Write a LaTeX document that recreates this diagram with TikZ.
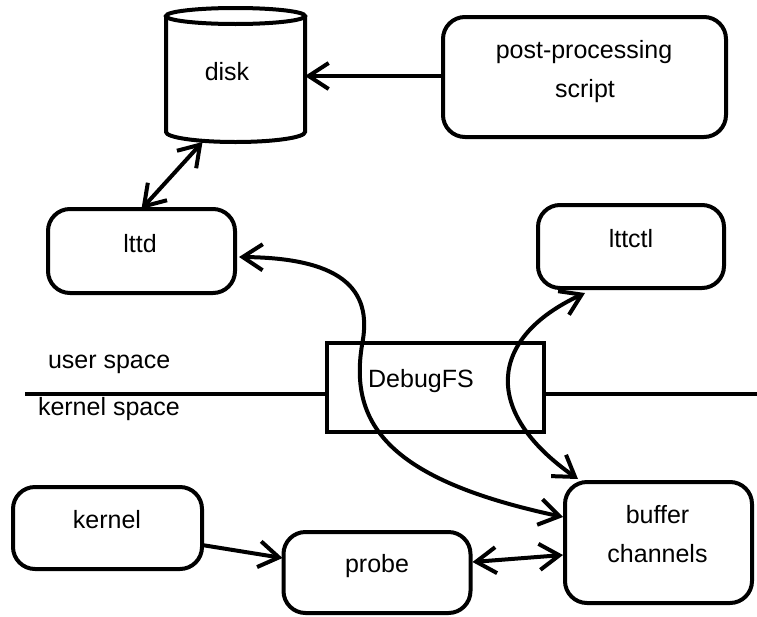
\documentclass[tikz,border=0pt]{standalone}
\usepackage{fontspec}
\setmainfont{Liberation Sans}
\usetikzlibrary{arrows.meta}

\begin{document}
\begin{tikzpicture}[x=1pt,y=-1pt,
  every node/.style={inner sep=0pt, outer sep=0pt},
  box/.style={draw, line width=4pt, rounded corners=22pt},
  plainbox/.style={draw, line width=4pt},
  lbl/.style={font=\fontsize{25pt}{30pt}\selectfont, anchor=base},
  conn/.style={line width=4pt},
  >={Straight Barb[length=20pt,width=26pt]}]

\useasboundingbox (0,0) rectangle (757,616);

% boxes
\node[box, minimum width=283pt, minimum height=120pt] (post) at (584.5,77) {};
\node[box, minimum width=187pt, minimum height=84pt] (lttd) at (141.5,251) {};
\node[box, minimum width=186pt, minimum height=83pt] (lttctl) at (631,246.5) {};
\node[plainbox, minimum width=217pt, minimum height=89pt] (debug) at (435.5,387.5) {};
\node[box, minimum width=189pt, minimum height=82pt] (kernel) at (107.5,528) {};
\node[box, minimum width=187pt, minimum height=81pt] (probe) at (377,572.5) {};
\node[box, minimum width=187pt, minimum height=121pt] (buffer) at (658.5,542.5) {};

% disk drawn as a cylinder
\node[minimum width=139pt, minimum height=132pt] (disk) at (235.5,76) {};
\draw[line width=4pt] (166,16) -- (166,132)
  arc[start angle=180, end angle=360, x radius=69.5pt, y radius=10pt] -- (305,16);
\draw[line width=4pt] (235.5,16) ellipse [x radius=69.5pt, y radius=8pt];

% user / kernel boundary
\coordinate (ls) at (25,393.5);
\coordinate (le) at (757,393.5);
\draw[line width=4pt] (ls) -- (ls -| debug.west);
\draw[line width=4pt] (debug.east |- le) -- (le);

% labels
\node[lbl] (disk-t) at (227,80) {disk};
\node[lbl] (post-t1) at (584,58) {post-processing};
\node[lbl] (post-t2) at (585,97) {script};
\node[lbl] (lttd-t) at (140,252) {lttd};
\node[lbl] (lttctl-t) at (631,247) {lttctl};
\node[lbl, anchor=base west] (user-t) at (48,368) {user space};
\node[lbl, anchor=base west] (kspace-t) at (38,415) {kernel space};
\node[lbl] (debug-t) at (421,387) {DebugFS};
\node[lbl] (kernel-t) at (107,528) {kernel};
\node[lbl] (probe-t) at (377,572) {probe};
\node[lbl] (buf-t1) at (657.5,523) {buffer};
\node[lbl] (buf-t2) at (657.5,562) {channels};

% connectors
\draw[conn,->] (post.west |- disk.east) -- (disk.east);
\draw[conn,<->] ([xshift=-33pt]disk.south) -- (lttd.north);
\draw[conn,<->] ([xshift=4pt,yshift=-6pt]lttd.east)
  .. controls (350,258) and (372,295) .. (362,345)
  .. controls (349,425) and (390,480) .. ([xshift=-2pt,yshift=25.5pt]buffer.west);
\draw[conn,<->] ([xshift=-46pt,yshift=-5pt]lttctl.south)
  .. controls (488,338) and (482,412) .. ([xshift=-80.5pt,yshift=3pt]buffer.north);
\draw[conn,->] ([yshift=-17pt]kernel.east) -- ([xshift=-1pt,yshift=14.5pt]probe.west);
\draw[conn,<->] ([xshift=2pt,yshift=10.5pt]probe.east) -- ([xshift=-2pt,yshift=-12.5pt]buffer.west);

\end{tikzpicture}
\end{document}
